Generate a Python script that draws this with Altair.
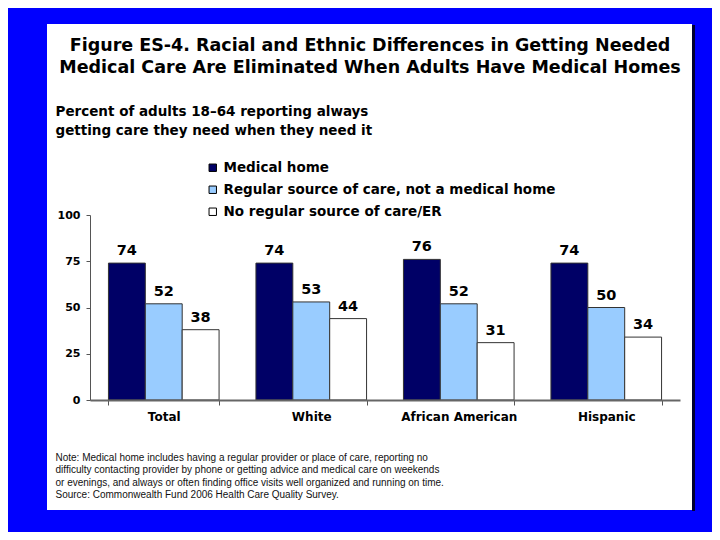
import altair as alt
import pandas as pd

categories = ["Total", "White", "African American", "Hispanic"]
series = ["Medical home", "Regular source of care, not a medical home", "No regular source of care/ER"]
medical_home = [74, 74, 76, 74]
regular_source = [52, 53, 52, 50]
no_regular = [38, 44, 31, 34]
colors = ["#000066", "#99CCFF", "#FFFFFF"]

title_lines = ["Figure ES-4. Racial and Ethnic Differences in Getting Needed",
               "Medical Care Are Eliminated When Adults Have Medical Homes"]
subtitle_lines = ["Percent of adults 18\u201364 reporting always",
                  "getting care they need when they need it"]
note_lines = ["Note: Medical home includes having a regular provider or place of care, reporting no",
              "difficulty contacting provider by phone or getting advice and medical care on weekends",
              "or evenings, and always or often finding office visits well organized and running on time.",
              "Source: Commonwealth Fund 2006 Health Care Quality Survey."]

rows = []
for i, c in enumerate(categories):
    for s, vals in zip(series, [medical_home, regular_source, no_regular]):
        rows.append({"category": c, "series": s, "value": vals[i]})
df = pd.DataFrame(rows)

FONT = "Liberation Sans"
BOLD = "DejaVu Sans"

panel = alt.Chart(alt.Data(values=[{"a": 1}])).mark_rect(
    fill="white"
).encode(
    x=alt.value(-43), x2=alt.value(602), y=alt.value(-191), y2=alt.value(295)
)
shadow = alt.Chart(alt.Data(values=[{"a": 1}])).mark_rule(
    color="#000033", strokeWidth=3
).encode(
    x=alt.value(603.5), y=alt.value(-190), y2=alt.value(296)
)

x_enc = alt.X(
    "category:N", sort=categories,
    scale=alt.Scale(paddingInner=0.25, paddingOuter=0.125),
    axis=alt.Axis(
        title=note_lines, titleX=-35, titleY=52, titleAlign="left", titleAnchor="start",
        titleBaseline="top", titleFont=FONT, titleFontSize=10, titleFontWeight="normal",
        titleColor="#111111", titleLineHeight=12.5,
        labelAngle=0, labelFont=BOLD, labelFontSize=12, labelFontWeight="bold",
        labelColor="black", labelPadding=6, tickBand="extent", tickSize=5,
        tickColor="#555555", domainColor="#666666", domainWidth=2, zindex=1
    )
)
y_enc = alt.Y(
    "value:Q",
    scale=alt.Scale(domain=[0, 100]),
    axis=alt.Axis(
        values=[0, 25, 50, 75, 100], grid=False,
        title=subtitle_lines, titleX=-35, titleY=-111, titleAngle=0, titleAlign="left",
        titleBaseline="top", titleFont=BOLD, titleFontSize=13.5, titleFontWeight="bold",
        titleColor="black", titleLineHeight=19,
        labelFont=BOLD, labelFontSize=11, labelFontWeight="bold", labelColor="black",
        labelPadding=6, tickSize=4, tickColor="#555555", domainColor="#555555", zindex=1
    )
)
xoff = alt.XOffset("series:N", sort=series, scale=alt.Scale(paddingInner=0, paddingOuter=0))

bars = alt.Chart(df).mark_bar(stroke="#333333", strokeWidth=1).encode(
    x=x_enc, y=y_enc, xOffset=xoff,
    color=alt.Color(
        "series:N", sort=series,
        scale=alt.Scale(domain=series, range=colors),
        legend=alt.Legend(
            title=None, orient="none", legendX=116, legendY=-54,
            symbolType="square", symbolSize=55, symbolStrokeColor="black",
            symbolStrokeWidth=1, labelFont=BOLD, labelFontSize=13.5,
            labelFontWeight="bold", labelColor="black", rowPadding=7,
            labelLimit=0, labelOffset=4, zindex=1
        )
    )
)
labels = alt.Chart(df).mark_text(
    dy=-5, font=BOLD, fontSize=14.5, fontWeight="bold", color="black", baseline="bottom"
).encode(
    x=alt.X("category:N", sort=categories), y="value:Q", xOffset=xoff, text="value:Q"
)

chart = alt.layer(panel, shadow, bars, labels).properties(
    width=590, height=185,
    autosize=alt.AutoSizeParams(type="none"),
    padding={"left": 82, "top": 207, "right": 32, "bottom": 132},
    background="#0000FF",
    title=alt.TitleParams(
        text=title_lines, anchor="middle", frame="group", dx=-15, offset=0, dy=53,
        font=BOLD, fontSize=17.5, fontWeight="bold", color="black", lineHeight=22, zindex=1
    )
).configure_view(strokeWidth=0)

chart.save("out.html", embed_options={"renderer": "svg", "actions": False})
